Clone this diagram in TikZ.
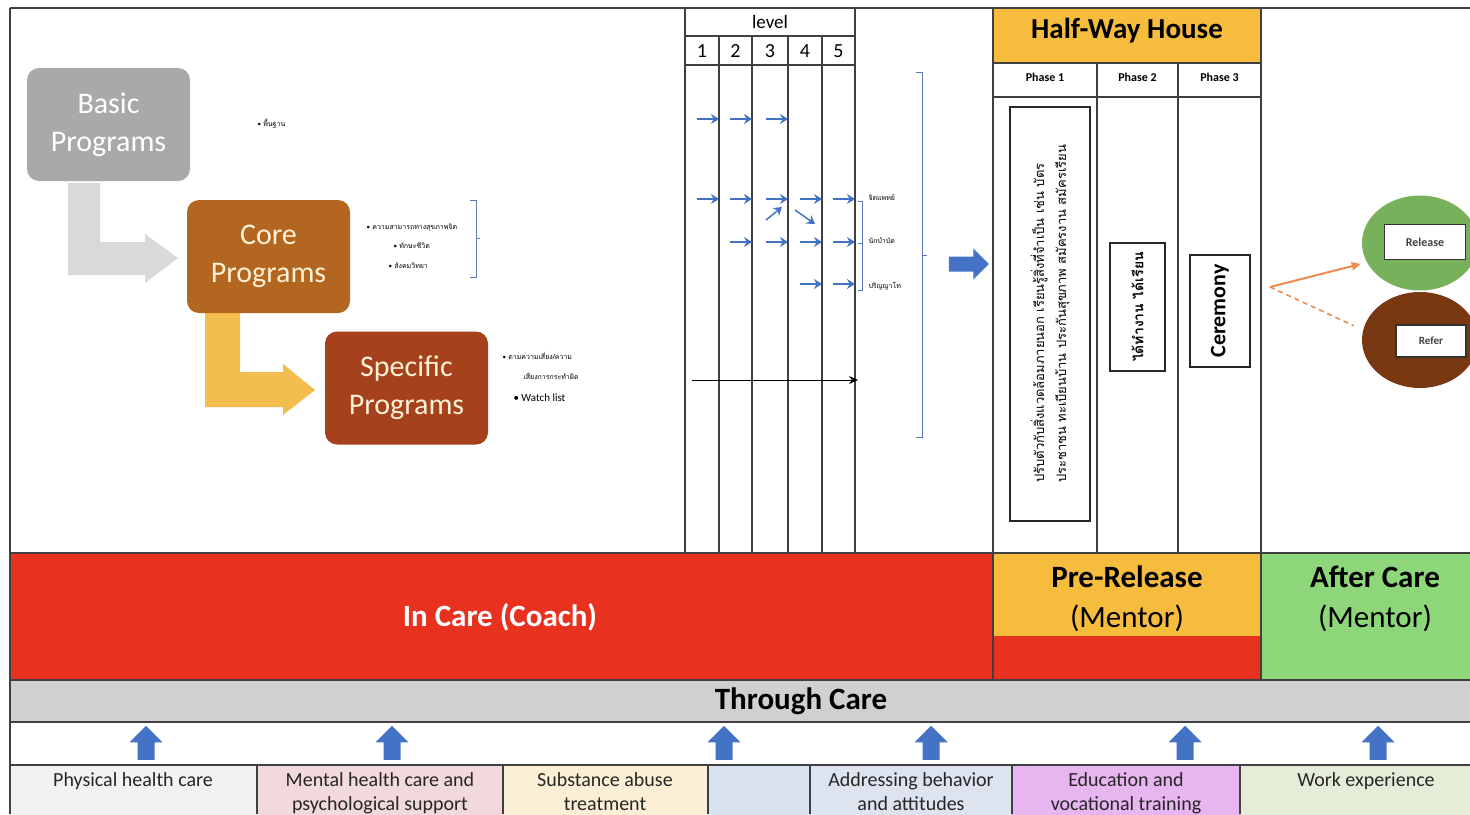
\documentclass[tikz,border=0pt]{standalone}
\usepackage{fontspec}
\setmainfont{Carlito}
\newfontfamily\thaifont[Script=Thai]{Loma}
\usetikzlibrary{arrows.meta,shapes.arrows,shapes.geometric,positioning}
\definecolor{basicgray}{HTML}{A9A9A9}
\definecolor{corebrown}{HTML}{B2661F}
\definecolor{specred}{HTML}{A5421D}
\definecolor{creamtxt}{HTML}{FFF1D6}
\definecolor{lightgrayarr}{HTML}{D9D9D9}
\definecolor{yellowarr}{HTML}{F4BE4F}
\definecolor{arrowblue}{HTML}{4472C4}
\definecolor{bracketblue}{HTML}{5B7BB8}
\definecolor{incarered}{HTML}{E8311F}
\definecolor{hwyellow}{HTML}{F6BC3D}
\definecolor{aftergreen}{HTML}{8DD67A}
\definecolor{throughgray}{HTML}{D0D0D0}
\definecolor{relgreen}{HTML}{78B15B}
\definecolor{refbrown}{HTML}{7A3812}
\definecolor{orangeline}{HTML}{EE8B50}
\definecolor{physc}{HTML}{F2F2F2}
\definecolor{mentalc}{HTML}{F2D9DB}
\definecolor{substc}{HTML}{FBEFD5}
\definecolor{emptyc}{HTML}{DAE3F0}
\definecolor{behavc}{HTML}{DDE4EF}
\definecolor{educc}{HTML}{E7B5F0}
\definecolor{workc}{HTML}{E5EDD9}
\begin{document}
\begin{tikzpicture}[x=1pt,y=-1pt,line width=1pt,
    frame/.style={draw=black!75,line width=1.1pt},
    prog/.style={rounded corners=12pt,minimum width=163pt,minimum height=113pt,align=center,inner sep=0pt,font=\fontsize{30}{38}\selectfont},
    bandbold/.style={font=\bfseries\fontsize{31}{40}\selectfont,align=center},
    bandtxt/.style={font=\fontsize{31}{40}\selectfont,align=center},
    bottxt/.style={anchor=north,align=center,inner sep=0pt,font=\fontsize{20}{24}\selectfont,text=black!85},
    thaismall/.style={anchor=west,inner sep=0pt,font=\thaifont\fontsize{7}{9}\selectfont},
    phasebox/.style={draw=black!85,line width=1.5pt,fill=white,rotate=90,align=left,inner sep=2pt},
    lvlarrow/.style={draw=arrowblue,line width=1.5pt,-{Stealth[length=8pt,width=10pt]}},
    uparrow/.style={single arrow,fill=arrowblue,rotate=90,minimum height=34pt,minimum width=32pt,single arrow head extend=8pt,inner xsep=0pt,inner ysep=8pt},
    bracket/.style={draw=bracketblue,line width=1pt}]
\useasboundingbox (0,0) rectangle (1470,814);
\clip (0,0) rectangle (1470,814);
\fill[white] (0,0) rectangle (1470,814);

% program boxes and bent arrows
\fill[lightgrayarr] (68,183) -- (100,183) -- (100,242) -- (145,242) -- (145,234) -- (178,258) -- (145,283) -- (145,275) -- (68,275) -- cycle;
\fill[yellowarr] (205,313) -- (240,313) -- (240,372) -- (283,372) -- (283,364) -- (315,390) -- (283,415) -- (283,407) -- (205,407) -- cycle;
\node[prog,fill=basicgray,text=white] at (108.5,124.5) (basic) {Basic\\Programs};
\node[prog,fill=corebrown,text=creamtxt] at (268.5,256.5) (core) {Core\\Programs};
\node[prog,fill=specred,text=creamtxt] at (406.5,388) (specific) {Specific\\Programs};

\node[thaismall] at (257,124) (b1) {{\rmfamily•} พื้นฐาน};
\node[thaismall] at (366,228) (c1) {{\rmfamily•} ความสามารถทางสุขภาพจิต};
\node[thaismall] at (393,246) (c2) {{\rmfamily•} ทักษะชีวิต};
\node[thaismall] at (388,266) (c3) {{\rmfamily•} สังคมวิทยา};
\draw[bracket] (470,200) -- (476,200) -- (476,277) -- (470,277) (476,238) -- (480,238);
\node[thaismall] at (502,356) (s1) {{\rmfamily•} ตามความเสี่ยง/ความ};
\node[thaismall] at (523,376) (s2) {เสี่ยงการกระทำผิด};
\node[anchor=west,inner sep=0pt,font=\fontsize{11}{13}\selectfont] at (513,398) (s3) {• Watch list};

% level grid
\draw[frame] (685,8) -- (685,553) (855,8) -- (855,553) (685,36) -- (855,36) (685,65) -- (855,65);
\foreach \x in {719,752,788,822}
    \draw[frame] (\x,36) -- (\x,553);
\node[font=\fontsize{19}{22}\selectfont] at (770,22) (lvl) {level};
\foreach \n/\x in {1/702,2/735.5,3/770,4/805,5/838.5}
    \node[font=\fontsize{20}{22}\selectfont] at (\x,51) (n\n) {\n};
\foreach \x in {719,752,788}
    \draw[lvlarrow] (\x-22,119) -- (\x,119);
\foreach \x in {719,752,788,822,855}
    \draw[lvlarrow] (\x-22,199) -- (\x,199);
\foreach \x in {752,788,822,855}
    \draw[lvlarrow] (\x-22,242) -- (\x,242);
\foreach \x in {822,855}
    \draw[lvlarrow] (\x-22,284) -- (\x,284);
\draw[lvlarrow] (766,220) -- (782,207);
\draw[lvlarrow] (795,210) -- (815,224);
\coordinate (tl start) at (692,380);
\coordinate (tl end) at (858,380);
\draw[-{Stealth[length=9pt,width=8pt]},line width=1pt] (tl start) -- (tl end);
\draw[bracket] (858,201) -- (862,201) -- (862,290) -- (858,290) (858,243) -- (862,243);
\node[thaismall] at (868,197) (l1) {จิตแพทย์};
\node[thaismall] at (868,241) (l2) {นักบำบัด};
\node[thaismall] at (868,286) (l3) {ปริญญาโท};
\draw[bracket] (916,72) -- (922,72) -- (922,437) -- (916,437) (922,255) -- (927,255);
\node[single arrow,fill=arrowblue,minimum height=40pt,minimum width=30pt,single arrow head extend=8pt,inner xsep=0pt,inner ysep=7pt] at (965,264) (toHW) {};

% half-way house
\fill[hwyellow] (993,8) rectangle (1261,63);
\node[font=\bfseries\fontsize{29}{32}\selectfont] at (1127,31) (hw) {Half-Way House};
\draw[frame] (993,63) -- (1261,63) (993,97) -- (1261,97) (1097,63) -- (1097,553) (1178,63) -- (1178,553);
\node[font=\bfseries\fontsize{12}{14}\selectfont] at (1045,77) (ph1) {Phase 1};
\node[font=\bfseries\fontsize{12}{14}\selectfont] at (1137.5,77) (ph2) {Phase 2};
\node[font=\bfseries\fontsize{12}{14}\selectfont] at (1219.5,77) (ph3) {Phase 3};
\node[phasebox,minimum width=414pt,minimum height=80pt,font=\thaifont\fontsize{13}{22}\selectfont] at (1050,314) (p1) {ปรับตัวกับสิ่งแวดล้อมภายนอก เรียนรู้สิ่งที่จำเป็น เช่น บัตร\\ประชาชน ทะเบียนบ้าน ประกันสุขภาพ สมัครงาน สมัครเรียน};
\node[phasebox,minimum width=128pt,minimum height=55pt,font=\thaifont\bfseries\fontsize{14}{16}\selectfont] at (1137.5,307) (p2) {ได้ทำงาน ได้เรียน};
\node[phasebox,minimum width=112pt,minimum height=60pt,font=\bfseries\fontsize{22}{24}\selectfont] at (1220,311) (p3) {Ceremony};

% after care outcomes
\node[ellipse,fill=relgreen,minimum width=116pt,minimum height=95pt] at (1420,243) (rel) {};
\node[ellipse,fill=refbrown,minimum width=116pt,minimum height=96pt] at (1420,340) (ref) {};
\node[draw=black!80,line width=1.5pt,fill=white,minimum width=81pt,minimum height=35pt,font=\bfseries\fontsize{12}{14}\selectfont,text=black!75] at (1425,242) (relbox) {Release};
\node[draw=black!80,line width=1.5pt,fill=white,minimum width=70pt,minimum height=32pt,font=\bfseries\fontsize{11}{13}\selectfont,text=black!75] at (1431,341) (refbox) {Refer};
\coordinate (split) at (1270,287);
\draw[orangeline,line width=2pt,-{Triangle[length=9pt,width=8pt]},shorten >=6pt] (split) -- (rel.200);
\draw[orangeline,line width=1.6pt,dash pattern=on 5pt off 4pt,shorten >=10pt] (split) -- (ref.170);

% care bands
\fill[incarered] (10,553) rectangle (993,680);
\fill[hwyellow] (993,553) rectangle (1261,636);
\fill[incarered] (993,636) rectangle (1261,680);
\fill[aftergreen] (1261,553) rectangle (1470,680);
\fill[throughgray] (10,680) rectangle (1470,722);
\node[bandbold,text=white] at (500,617) (incare) {In Care (Coach)};
\node[bandbold] at (1127,577) (prerel) {Pre-Release};
\node[bandtxt] at (1127,618) (prementor) {(Mentor)};
\node[bandbold] at (1375,577) (after) {After Care};
\node[bandtxt] at (1375,618) (aftermentor) {(Mentor)};
\node[bandbold] at (801,701) (through) {Through Care};

% services row
\foreach \xa/\xb/\col in {10/257/physc,257/503/mentalc,503/708/substc,708/810/emptyc,810/1012/behavc,1012/1240/educc,1240/1480/workc}
    \fill[\col] (\xa,765) rectangle (\xb,830);
\node[bottxt] at (133,772) (phys) {Physical health care};
\node[bottxt] at (380,772) (mental) {Mental health care and\\psychological support};
\node[bottxt] at (605,772) (subst) {Substance abuse\\treatment};
\node[bottxt] at (911,772) (behav) {Addressing behavior\\and attitudes};
\node[bottxt] at (1126,772) (educ) {Education and\\vocational training};
\node[bottxt] at (1366,772) (work) {Work experience};
\foreach \x/\nm in {146/u1,392/u2,724/u3,931/u4,1185/u5,1378/u6}
    \node[uparrow] at (\x,747) (\nm) {};

% frame lines
\draw[frame] (10,8) -- (1470,8) (10,8) -- (10,814);
\draw[frame] (993,8) -- (993,680) (1261,8) -- (1261,680);
\draw[frame] (10,553) -- (1470,553) (10,680) -- (1470,680) (10,722) -- (1470,722) (10,765) -- (1470,765);
\foreach \x in {257,503,708,810,1012,1240}
    \draw[frame] (\x,765) -- (\x,814);
\end{tikzpicture}
\end{document}
